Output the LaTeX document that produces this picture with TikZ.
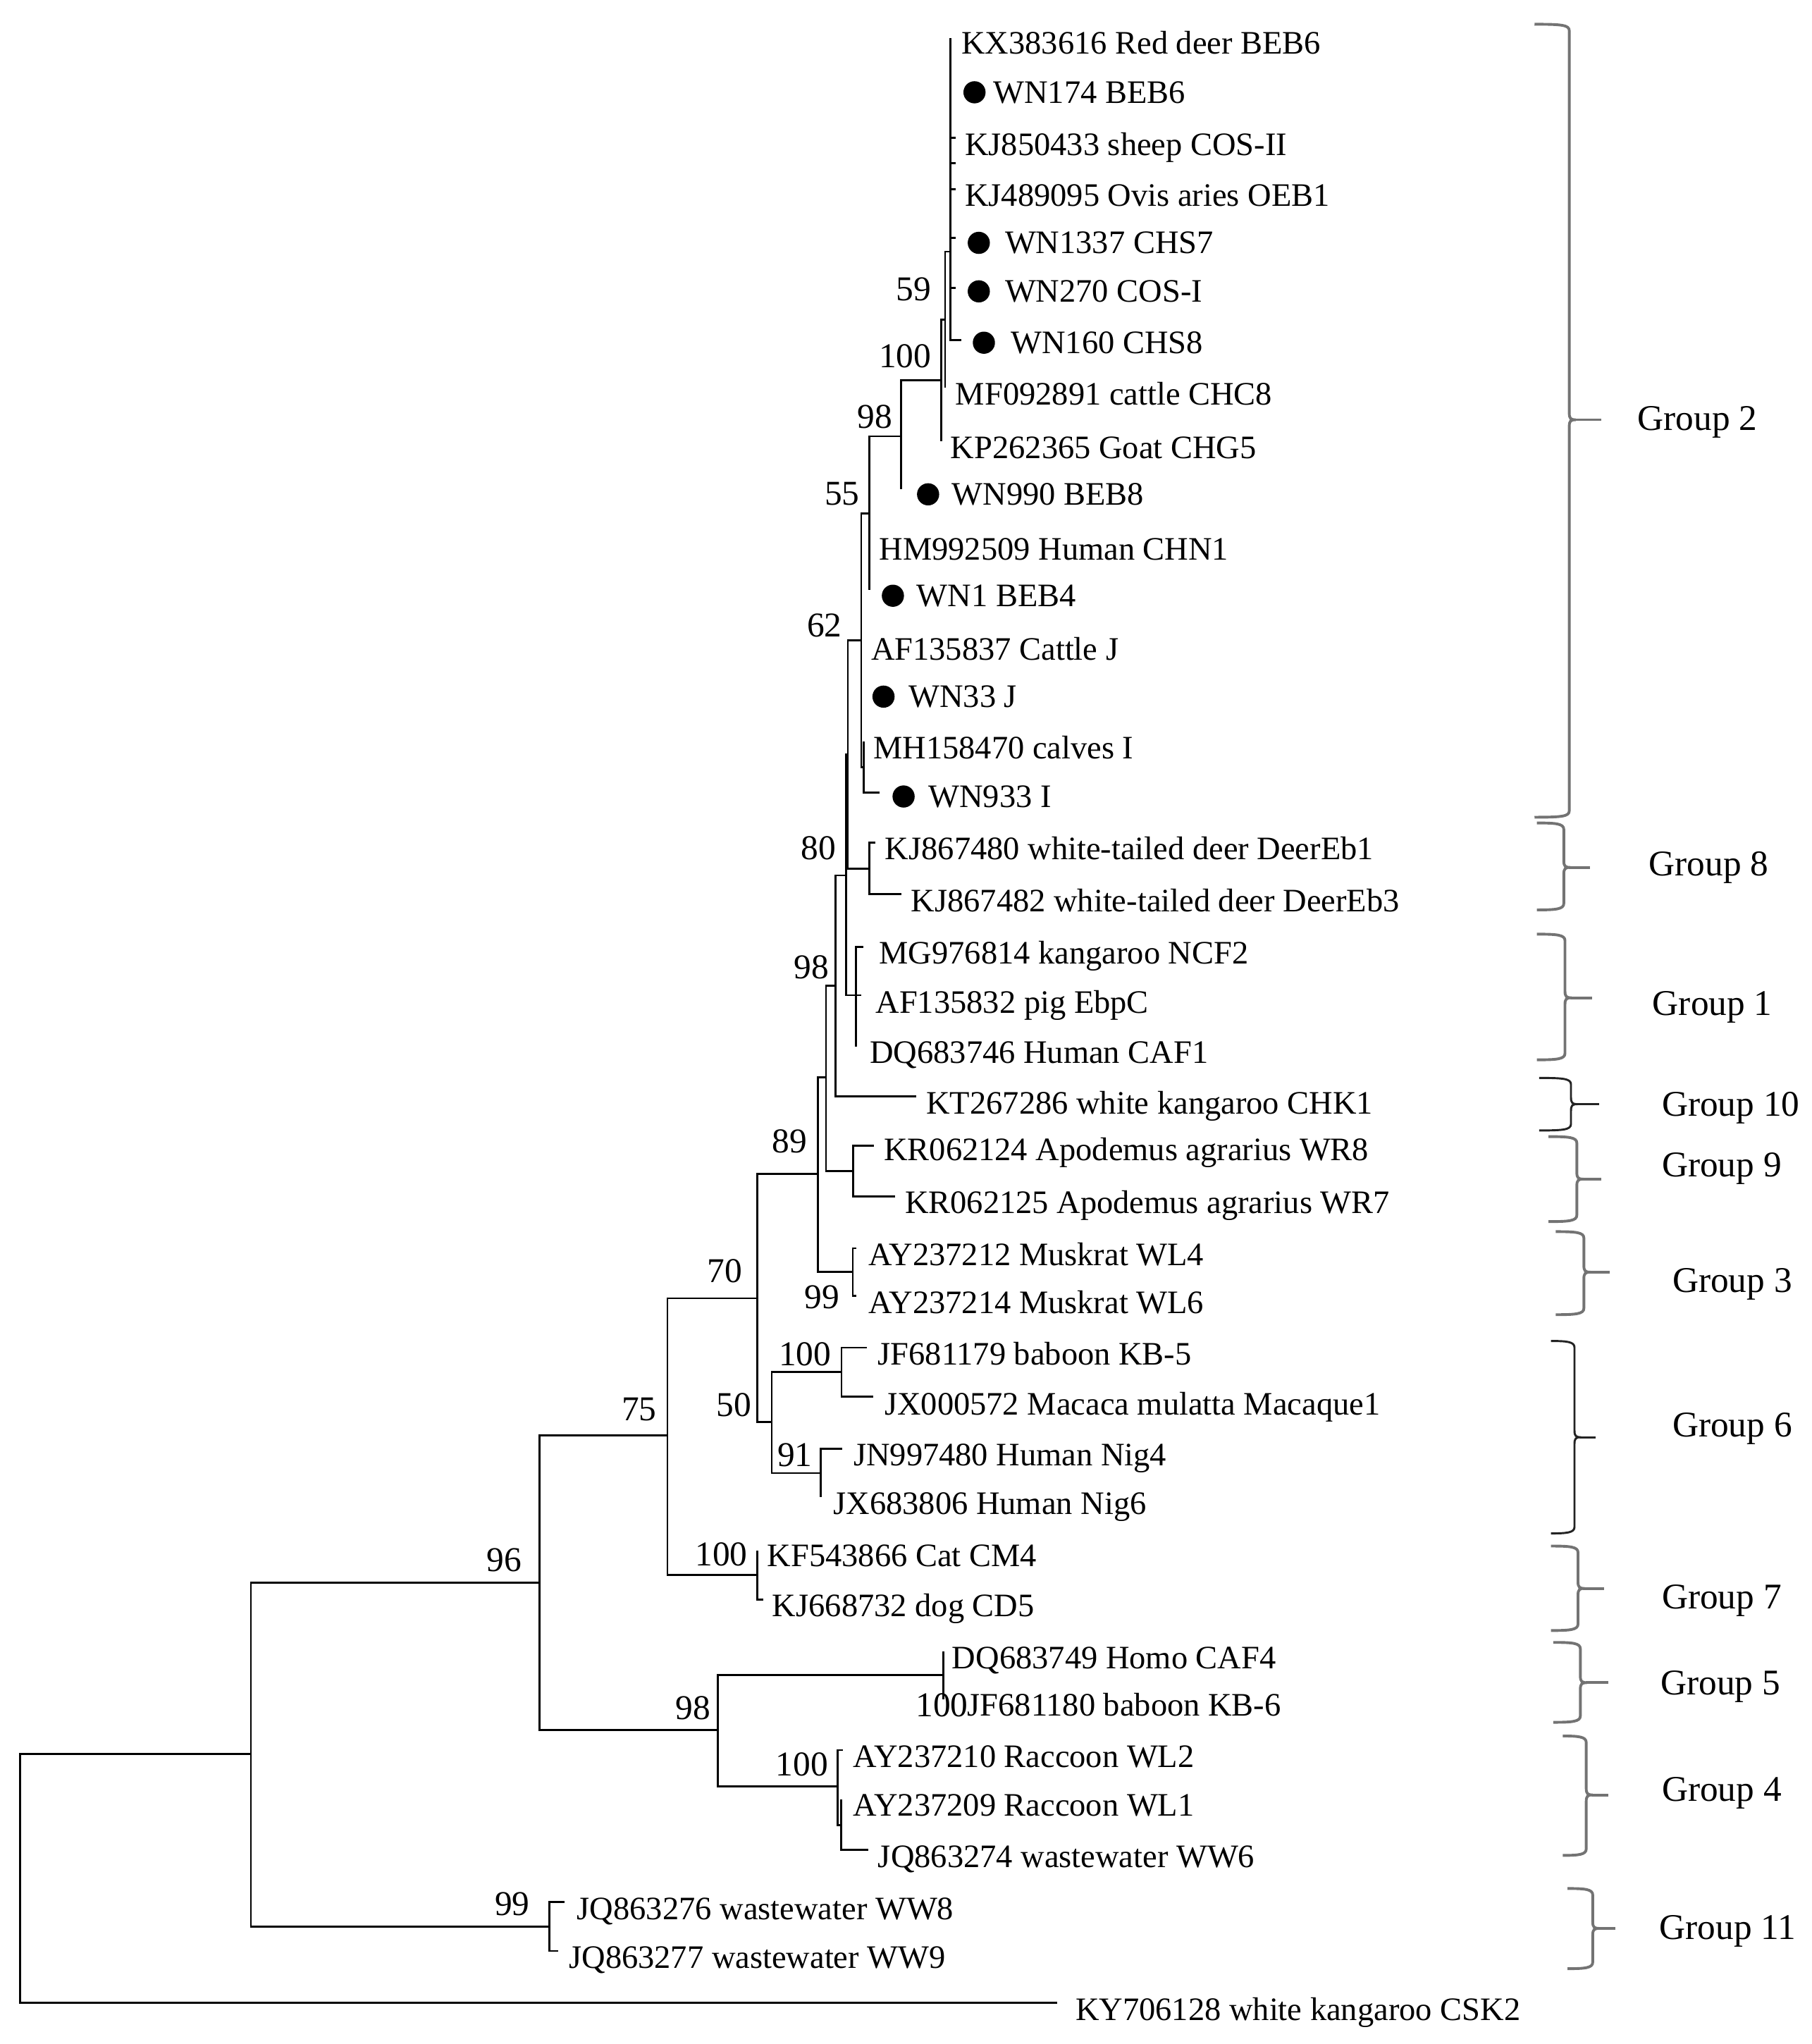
\documentclass[tikz,border=0pt]{standalone}
\usepackage{fontspec}
\setmainfont{Liberation Serif}
\definecolor{bracegray}{RGB}{115,115,115}
\definecolor{bracedark}{RGB}{35,35,35}
\newcommand{\grpbrace}[7]{%
  \draw[line width=1.2pt, #1] (#2,#4) .. controls (#3-6,#4) and (#3,#4+0.5) .. (#3,#4+5)
     -- (#3,#5-5) .. controls (#3,#5-1) and (#3+1,#5) .. (#3+5,#5)
     .. controls (#3+1,#5) and (#3,#5+1) .. (#3,#5+5)
     -- (#3,#6-5) .. controls (#3,#6-0.5) and (#3-6,#6) .. (#2,#6);
  \draw[line width=1.2pt, #1] (#3+4,#5) -- (#7,#5);
}
\tikzset{
  treeline/.style={line width=0.85pt, black},
  leaflab/.style={anchor=base west, inner sep=0pt, font=\fontsize{14.3}{16}\selectfont},
  bootlab/.style={anchor=base east, inner sep=0pt, font=\fontsize{15.2}{17}\selectfont},
  grouplab/.style={anchor=base west, inner sep=0pt, font=\fontsize{15.8}{18}\selectfont},
  wndot/.style={circle, fill=black, inner sep=0pt, minimum size=0.34cm},
  darkbrace/.style={bracedark, line width=0.9pt},
}
\begin{document}
\begin{tikzpicture}[x=0.02cm, y=-0.02cm]
\useasboundingbox (0,0) rectangle (1390,1568);

% internal nodes
\coordinate (root) at (15.5,1440.9);
\coordinate (nA1) at (192.5,1345.5);
\coordinate (n11) at (421.3,1477.8);
\coordinate (n96) at (413.9,1214);
\coordinate (n75) at (512,1101);
\coordinate (n98b) at (550.5,1327);
\coordinate (n5) at (723.8,1285);
\coordinate (n4) at (642.7,1370.5);
\coordinate (n4b) at (645.4,1400);
\coordinate (n70) at (581.1,996);
\coordinate (n7) at (581.1,1208);
\coordinate (n50) at (592,1091);
\coordinate (n6a) at (645.6,1052.5);
\coordinate (n91) at (629.7,1130);
\coordinate (n89) at (627.6,900.5);
\coordinate (n3) at (654.2,975.5);
\coordinate (nW) at (633.7,826.5);
\coordinate (n9) at (654.5,898.5);
\coordinate (n98m) at (640.9,756);
\coordinate (n80) at (649,671.5);
\coordinate (n1) at (656.6,763.5);
\coordinate (nU) at (650.5,579);
\coordinate (n8) at (667,666.3);
\coordinate (n62) at (660.7,491.4);
\coordinate (nMH) at (662.5,588.5);
\coordinate (n55) at (667,393.7);
\coordinate (n98t) at (691.3,334.7);
\coordinate (n100t) at (722,291.5);
\coordinate (n59) at (725.1,245);
\coordinate (nA) at (729.2,193);

% leaf tips
\coordinate (t1) at (729.2,29);
\coordinate (t2) at (729.2,66);
\coordinate (t3) at (733,105.7);
\coordinate (tX) at (733,125);
\coordinate (t4) at (733,145.1);
\coordinate (t5) at (733,182.5);
\coordinate (t6) at (733,221);
\coordinate (t7) at (737.3,261);
\coordinate (t8) at (725.1,297.5);
\coordinate (t9) at (722,338.4);
\coordinate (t10) at (691.3,375);
\coordinate (t11) at (667,416.2);
\coordinate (t12) at (667,452.5);
\coordinate (t13) at (660.7,493.2);
\coordinate (t14) at (660.7,529.4);
\coordinate (t15) at (662.5,569);
\coordinate (t16) at (675,608);
\coordinate (t17) at (671.5,646.3);
\coordinate (t18) at (691.4,686);
\coordinate (t19) at (662.6,726.5);
\coordinate (t20) at (660.5,763.5);
\coordinate (t21) at (656.6,803);
\coordinate (t22) at (703,841.2);
\coordinate (t23) at (670.6,879);
\coordinate (t24) at (686.6,918);
\coordinate (t25) at (657,957.5);
\coordinate (t26) at (657,994);
\coordinate (t27) at (665,1033.8);
\coordinate (t28) at (670,1071.3);
\coordinate (t29) at (646.3,1111.5);
\coordinate (t30) at (629.7,1148.5);
\coordinate (t31) at (581.1,1189.3);
\coordinate (t32) at (585.5,1227);
\coordinate (t33) at (723.8,1267);
\coordinate (t34) at (723.8,1303.4);
\coordinate (t35) at (646.5,1342.5);
\coordinate (t36) at (645.4,1380.5);
\coordinate (t37) at (666.1,1419);
\coordinate (t38) at (433.1,1459);
\coordinate (t39) at (428.4,1496.6);
\coordinate (t40) at (811,1536.2);

% branches
\foreach \p/\c in {root/nA1, root/t40, nA1/n96, nA1/n11, n11/t38, n11/t39,
  n96/n75, n96/n98b, n98b/n5, n98b/n4, n5/t33, n5/t34, n4/t35, n4/n4b, n4b/t36, n4b/t37,
  n75/n70, n75/n7, n7/t31, n7/t32, n70/n89, n70/n50, n50/n6a, n50/n91,
  n6a/t27, n6a/t28, n91/t29, n91/t30, n89/nW, n89/n3, n3/t25, n3/t26,
  nW/n98m, nW/n9, n9/t23, n9/t24, n98m/n80, n98m/t22, n80/nU, n80/n1,
  n1/t19, n1/t20, n1/t21, nU/n62, nU/n8, n8/t17, n8/t18,
  n62/n55, n62/t13, n62/t14, n62/nMH, nMH/t15, nMH/t16,
  n55/n98t, n55/t11, n55/t12, n98t/n100t, n98t/t10, n100t/n59, n100t/t9,
  n59/nA, n59/t8, nA/t1, nA/t2, nA/t3, nA/tX, nA/t4, nA/t5, nA/t6, nA/t7}
  \draw[treeline] (\p) |- (\c);

% dots
\node[wndot] (d2) at (747.6,70.8) {};
\node[wndot] (d5) at (750.9,186.3) {};
\node[wndot] (d6) at (750.9,223.5) {};
\node[wndot] (d7) at (754.8,262.9) {};
\node[wndot] (d10) at (712,379.2) {};
\node[wndot] (d12) at (685,457) {};
\node[wndot] (d14) at (677.8,534.4) {};
\node[wndot] (d16) at (693.2,611) {};

% leaf labels
\node[leaflab] (l1) at (737.3,41.4) {KX383616 Red deer BEB6};
\node[leaflab] (l2) at (761.7,79.1) {WN174 BEB6};
\node[leaflab] (l3) at (740,119) {KJ850433 sheep COS-II};
\node[leaflab] (l4) at (740,158.4) {KJ489095 Ovis aries OEB1};
\node[leaflab] (l5) at (770.7,194.6) {WN1337 CHS7};
\node[leaflab] (l6) at (770.7,231.8) {WN270 COS-I};
\node[leaflab] (l7) at (775.2,271.2) {WN160 CHS8};
\node[leaflab] (l8) at (732.8,310.5) {MF092891 cattle CHC8};
\node[leaflab] (l9) at (729,351.7) {KP262365 Goat CHG5};
\node[leaflab] (l10) at (730,387.3) {WN990 BEB8};
\node[leaflab] (l11) at (674.2,429.5) {HM992509 Human CHN1};
\node[leaflab] (l12) at (703,465.3) {WN1 BEB4};
\node[leaflab] (l13) at (668,506.5) {AF135837 Cattle J};
\node[leaflab] (l14) at (696.8,542.7) {WN33 J};
\node[leaflab] (l15) at (669.7,582.1) {MH158470 calves I};
\node[leaflab] (l16) at (712,619.3) {WN933 I};
\node[leaflab] (l17) at (678.7,659.1) {KJ867480 white-tailed deer DeerEb1};
\node[leaflab] (l18) at (698.6,699.5) {KJ867482 white-tailed deer DeerEb3};
\node[leaflab] (l19) at (674.2,739.3) {MG976814 kangaroo NCF2};
\node[leaflab] (l20) at (671.5,777.1) {AF135832 pig EbpC};
\node[leaflab] (l21) at (667,815.8) {DQ683746 Human CAF1};
\node[leaflab] (l22) at (710.3,854.7) {KT267286 white kangaroo CHK1};
\node[leaflab] (l23) at (677.8,890.3) {KR062124 Apodemus agrarius WR8};
\node[leaflab] (l24) at (693.9,930.8) {KR062125 Apodemus agrarius WR7};
\node[leaflab] (l25) at (665.9,970.8) {AY237212 Muskrat WL4};
\node[leaflab] (l26) at (665.9,1007.3) {AY237214 Muskrat WL6};
\node[leaflab] (l27) at (673.2,1046.8) {JF681179 baboon KB-5};
\node[leaflab] (l28) at (678.3,1085.3) {JX000572 Macaca mulatta Macaque1};
\node[leaflab] (l29) at (654.5,1124.3) {JN997480 Human Nig4};
\node[leaflab] (l30) at (639,1161.7) {JX683806 Human Nig6};
\node[leaflab] (l31) at (588.3,1201.8) {KF543866 Cat CM4};
\node[leaflab] (l32) at (592.2,1240.3) {KJ668732 dog CD5};
\node[leaflab] (l33) at (730.1,1280.3) {DQ683749 Homo CAF4};
\node[leaflab] (l34) at (741.9,1316.3) {JF681180 baboon KB-6};
\node[leaflab] (l35) at (654.4,1355.8) {AY237210 Raccoon WL2};
\node[leaflab] (l36) at (654.4,1393.3) {AY237209 Raccoon WL1};
\node[leaflab] (l37) at (673.3,1432.3) {JQ863274 wastewater WW6};
\node[leaflab] (l38) at (442.4,1472.8) {JQ863276 wastewater WW8};
\node[leaflab] (l39) at (436.2,1510) {JQ863277 wastewater WW9};
\node[leaflab] (l40) at (824.8,1549.7) {KY706128 white kangaroo CSK2};

% bootstrap values
\node[bootlab] (b59) at (714.8,230.5) {59};
\node[bootlab] (b100a) at (714.8,282) {100};
\node[bootlab] (b98a) at (685,328.2) {98};
\node[bootlab] (b55) at (659.8,387.2) {55};
\node[bootlab] (b62) at (646.3,488.6) {62};
\node[bootlab] (b80) at (641.8,659.4) {80};
\node[bootlab] (b98b) at (636.4,750.9) {98};
\node[bootlab] (b89) at (619.3,884.5) {89};
\node[bootlab] (b99a) at (644.2,1004) {99};
\node[bootlab] (b70) at (569.7,983.7) {70};
\node[bootlab] (b100b) at (638,1047.7) {100};
\node[bootlab] (b50) at (576.9,1086.3) {50};
\node[bootlab] (b91) at (623.5,1125) {91};
\node[bootlab] (b75) at (504,1090) {75};
\node[bootlab] (b100c) at (573.8,1201) {100};
\node[bootlab] (b96) at (400.5,1205.4) {96};
\node[bootlab] (b98c) at (545.2,1319) {98};
\node[bootlab] (b100d) at (743,1317) {100};
\node[bootlab] (b100e) at (635.5,1362) {100};
\node[bootlab] (b99b) at (406.7,1469.4) {99};

% group braces
\grpbrace{bracegray}{1177.2}{1203.9}{18.6}{322}{626.9}{1228.6}
\grpbrace{bracegray}{1179}{1199.7}{631.3}{665.4}{698}{1219.6}
\grpbrace{bracegray}{1179}{1200.6}{716.6}{765.4}{813}{1221.4}
\grpbrace{darkbrace}{1180.8}{1205.2}{826.9}{847}{867.2}{1226.8}
\grpbrace{bracegray}{1188}{1209.7}{871.9}{904.5}{937.1}{1228.6}
\grpbrace{bracegray}{1193.5}{1215.1}{944.8}{975.9}{1008.5}{1234.9}
\grpbrace{darkbrace}{1189.8}{1207.9}{1028.7}{1102.5}{1176.3}{1224}
\grpbrace{bracegray}{1189.8}{1210.6}{1186}{1218.5}{1250.8}{1230.4}
\grpbrace{bracegray}{1191.6}{1212.4}{1259.9}{1290.8}{1321.2}{1234}
\grpbrace{bracegray}{1198.9}{1216.9}{1331.7}{1376.9}{1423.3}{1234}
\grpbrace{bracegray}{1202.5}{1221.9}{1448.7}{1479.3}{1510.2}{1239.4}

% group labels
\node[grouplab] (g2) at (1256,330) {Group 2};
\node[grouplab] (g8) at (1264.6,671.6) {Group 8};
\node[grouplab] (g1) at (1267.5,778.7) {Group 1};
\node[grouplab] (g10) at (1274.6,856.3) {Group 10};
\node[grouplab] (g9) at (1274.6,902.9) {Group 9};
\node[grouplab] (g3) at (1282.7,991.4) {Group 3};
\node[grouplab] (g6) at (1282.7,1102.3) {Group 6};
\node[grouplab] (g7) at (1274.6,1233.9) {Group 7};
\node[grouplab] (g5) at (1273.7,1300.1) {Group 5};
\node[grouplab] (g4) at (1274.6,1381.5) {Group 4};
\node[grouplab] (g11) at (1272.7,1487.8) {Group 11};
\end{tikzpicture}
\end{document}
